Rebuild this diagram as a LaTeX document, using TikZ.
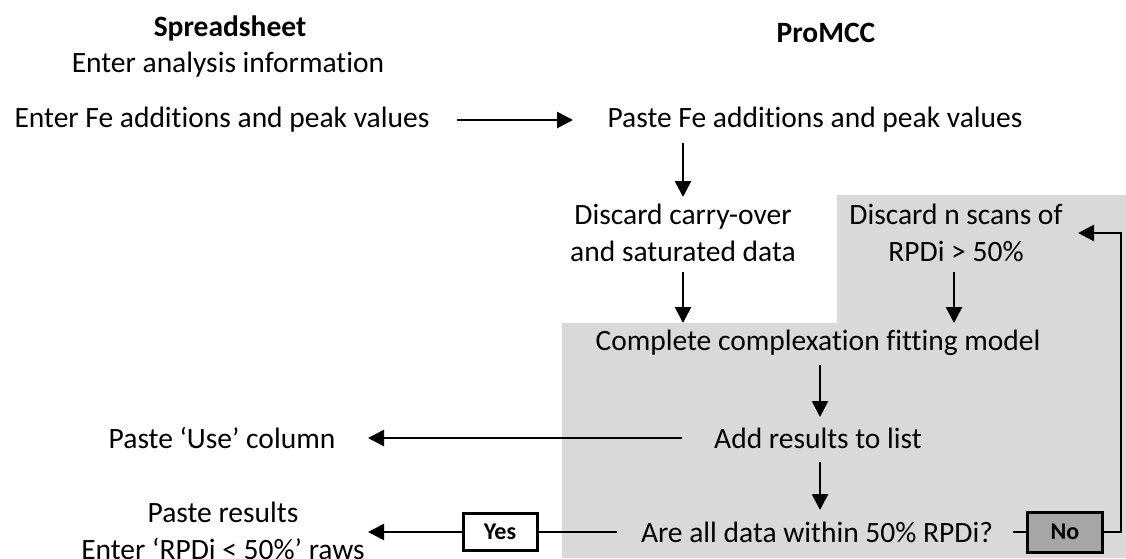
\documentclass[tikz,border=0pt]{standalone}
\usepackage{fontspec}
\setmainfont{Carlito}[Ligatures=NoCommon]
\usetikzlibrary{arrows.meta,calc}
\begin{document}
\begin{tikzpicture}[x=1pt,y=-1pt,
  txt/.style={inner sep=0pt, align=center, font=\fontsize{29.5}{37}\selectfont},
  hdr/.style={txt, font=\fontsize{29.5}{37}\selectfont\bfseries},
  arr/.style={line width=2.7pt, -{Triangle[length=16pt,width=16pt]}},
  ln/.style={line width=2.7pt},
  ansbox/.style={draw, line width=3pt, inner sep=0pt, minimum width=74pt, minimum height=37pt, font=\fontsize{24}{28}\selectfont\bfseries}
]
\useasboundingbox (0,0) rectangle (1126,558);
% grey area
\fill[fill={rgb,255:red,217;green,217;blue,217}] (562,558) -- (562,323) -- (837,323) -- (837,195) -- (1126,195) -- (1126,558) -- cycle;

% headers
\node[hdr] (ss) at (230,28) {Spreadsheet};
\node[hdr] (pm) at (826,33) {ProMCC};

% spreadsheet column
\node[txt] (info) at (228,65) {Enter analysis information};
\node[txt] (enterfe) at (222,120) {Enter Fe additions and peak values};
\node[txt] (usecol) at (222,438) {Paste ‘Use’ column};
\node[txt] (pasteres) at (223,531) {Paste results\\Enter ‘RPDi < 50\%’ raws};

% ProMCC column
\node[txt] (pastefe) at (815,120) {Paste Fe additions and peak values};
\node[txt] (disc1) at (683,233) {Discard carry-over\\and saturated data};
\node[txt] (disc2) at (956,233) {Discard n scans of\\RPDi > 50\%};
\node[txt] (complete) at (818,343) {Complete complexation fitting model};
\node[txt] (addres) at (818,438) {Add results to list};
\node[txt] (question) at (817,532) {Are all data within 50\% RPDi?};

\node[ansbox] (yes) at (500,532) {Yes};
\node[ansbox, fill={rgb,255:red,166;green,166;blue,166}, minimum width=75pt, minimum height=40pt] (no) at (1065,532) {No};

% connectors
\draw[arr] ($(enterfe.center)+(235,0)$) -- ($(pastefe.center)+(-242,0)$);
\draw[arr] ($(pastefe.center -| disc1.center)+(0,23)$) -- ($(disc1.center)+(0,-36)$);
\draw[arr] ($(disc1.center)+(0,39)$) -- ($(disc1.center |- complete.center)+(0,-20)$);
\draw[arr] ($(disc2.center)+(-2,39)$) -- ($(disc2.center |- complete.center)+(-2,-20)$);
\draw[arr] ($(complete.center)+(2,22)$) -- ($(addres.center)+(2,-21)$);
\draw[arr] ($(addres.center)+(-136,0)$) -- ($(usecol.center)+(146,0)$);
\draw[arr] ($(addres.center)+(2,24)$) -- ($(addres.center |- question.center)+(2,-22)$);
\draw[ln] ($(question.center)+(-200,0)$) -- (yes.east);
\draw[arr] (yes.west) -- ($(pasteres.center |- yes.west)+(145,0)$);
\draw[ln] ($(question.center)+(196,0)$) -- (no.west);
\draw[arr] (no.east) -- ++(17,0) |- ($(disc2.center)+(122,0)$);
\end{tikzpicture}
\end{document}
